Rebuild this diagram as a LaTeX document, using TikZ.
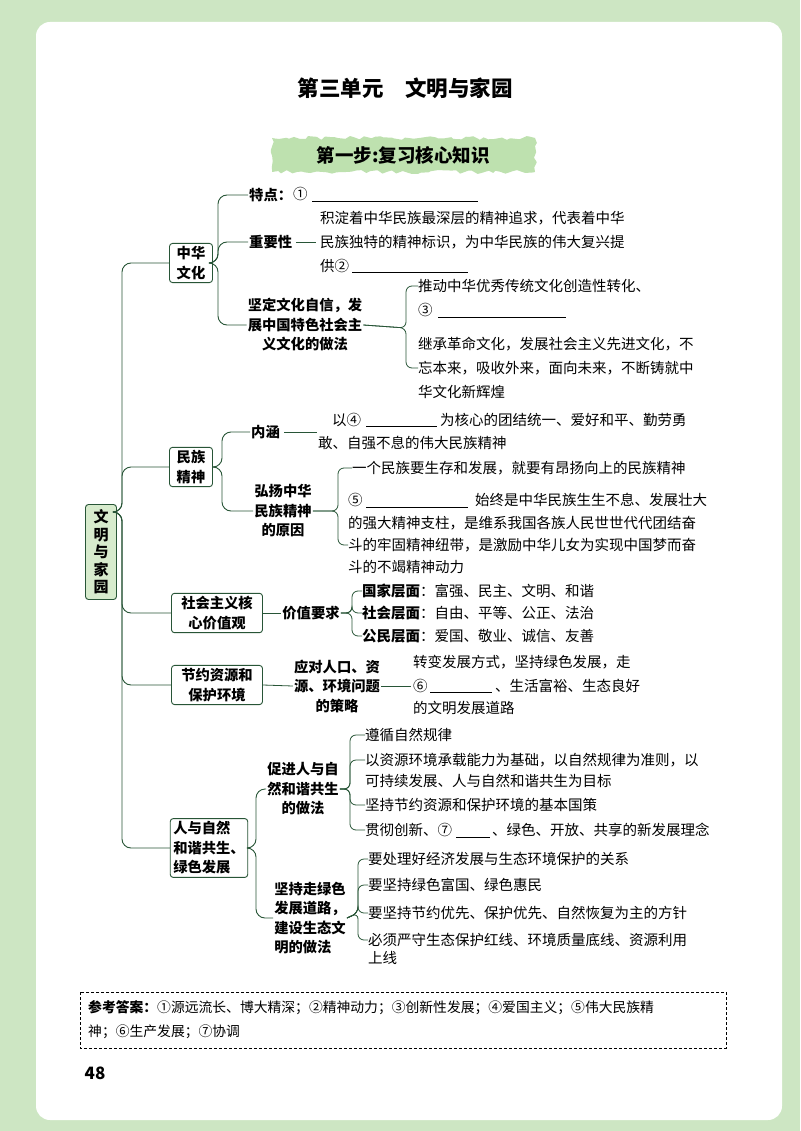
\documentclass[tikz,border=0pt]{standalone}
\usepackage{fontspec}
\setmainfont{Noto Sans CJK SC}
\usetikzlibrary{decorations.pathmorphing}
\definecolor{ln}{RGB}{40,85,55}
\definecolor{pg}{RGB}{205,230,195}
\definecolor{bn}{RGB}{190,225,175}
\definecolor{rootf}{RGB}{215,235,205}
\newcommand{\bodyf}{\fontsize{14.5}{16}\selectfont}
\newcommand{\lblf}{\fontsize{14.3}{19.5}\selectfont\bfseries}
\tikzset{
 txt/.style={anchor=west,inner sep=0pt,font=\bodyf},
 lbl/.style={inner sep=1pt,font=\lblf,align=center},
 box/.style={draw=ln,line width=0.9pt,rounded corners=3pt,fill=white,font=\lblf,align=center,inner sep=3pt},
 br/.style={draw=ln,line width=0.9pt,rounded corners=9pt},
 bk/.style={draw=ln,line width=0.8pt,rounded corners=6pt},
 blank/.style={draw=black,line width=0.6pt}
}
\begin{document}
\begin{tikzpicture}[x=1pt,y=-1pt]
\useasboundingbox (0,0) rectangle (800,1131);
\fill[pg] (0,0) rectangle (800,1131);
\fill[white,rounded corners=14pt] (36,22) rectangle (782,1120);
% title
\node[font=\fontsize{21.5}{24}\selectfont\bfseries] (title) at (405,88) {第三单元\hspace{1em}文明与家园};
\fill[bn,decorate,decoration={random steps,segment length=5pt,amplitude=2pt}] (272,138) rectangle (535,172);
\node[font=\fontsize{18.5}{20}\selectfont\bfseries] (step) at (403,155) {第一步:复习核心知识};
% root
\node[box,fill=rootf,minimum width=31pt,minimum height=95pt,font=\fontsize{15}{17.5}\selectfont\bfseries] (root) at (101,552) {文\\明\\与\\家\\园};
% level1 boxes
\node[box,minimum width=43pt] (zh) at (191,263) {中华\\文化};
\node[box,minimum width=43pt] (mz) at (191,467) {民族\\精神};
\node[box,minimum width=91pt] (sh) at (217,613) {社会主义核\\心价值观};
\node[box,minimum width=91pt] (jy) at (217,685) {节约资源和\\保护环境};
\node[box,minimum width=73pt,align=left] (rz) at (209,848) {人与自然\\和谐共生、\\绿色发展};
\coordinate (rt) at (117,512);
\foreach \b in {zh,mz,sh,jy,rz}{\draw[br] (rt) -- (122,512) |- (\b.west);}
% ---- 中华文化
\node[lbl,anchor=west] (td) at (248,195) {特点：};
\node[txt] (td1) at (293,194) {①};
\draw[blank] (312,201) -- (478,201);
\node[lbl,anchor=west] (zy) at (248,242) {重要性};
\draw[ln,line width=0.8pt] (zy.east) ++(3,0) -- (316,242);
\node[txt] (zy1) at (320,218) {积淀着中华民族最深层的精神追求，代表着中华};
\node[txt] (zy2) at (320,242) {民族独特的精神标识，为中华民族的伟大复兴提};
\node[txt] (zy3) at (320,266) {供②};
\draw[blank] (352,272) -- (468,272);
\node[lbl] (jd) at (305,325) {坚定文化自信，发\\展中国特色社会主\\义文化的做法};
\foreach \c in {td,zy}{\draw[br] (zh.east) -- (218,263) |- (\c.west);}
\draw[br] (zh.east) -- (218,263) |- (jd.west);
\node[txt] (jd1) at (418,286) {推动中华优秀传统文化创造性转化、};
\node[txt] (jd2) at (418,310) {③};
\draw[blank] (438,317) -- (566,317);
\node[txt] (jd3) at (418,344) {继承革命文化，发展社会主义先进文化，不};
\node[txt] (jd4) at (418,368) {忘本来，吸收外来，面向未来，不断铸就中};
\node[txt] (jd5) at (418,392) {华文化新辉煌};
\draw[bk] (jd.east) -- (406,328) |- (jd1.west);
\draw[bk] (jd.east) -- (406,328) |- (jd4.west);
% ---- 民族精神
\node[lbl,anchor=west] (nh) at (250,432) {内涵};
\draw[ln,line width=0.8pt] (nh.east) ++(3,0) -- (317,432);
\node[txt] (nh1) at (332,420) {以④};
\draw[blank] (366,426) -- (437,426);
\node[txt] (nh1b) at (440,420) {为核心的团结统一、爱好和平、勤劳勇};
\node[txt] (nh2) at (318,443) {敢、自强不息的伟大民族精神};
\node[lbl] (hy) at (283,511) {弘扬中华\\民族精神\\的原因};
\draw[br] (mz.east) -- (222,467) |- (nh.west);
\draw[br] (mz.east) -- (222,467) |- (hy.west);
\node[txt] (hy1) at (352,468) {一个民族要生存和发展，就要有昂扬向上的民族精神};
\node[txt] (hy2) at (348,500) {⑤};
\draw[blank] (366,507) -- (468,507);
\node[txt] (hy2b) at (475,500) {始终是中华民族生生不息、发展壮大};
\node[txt] (hy3) at (348,523) {的强大精神支柱，是维系我国各族人民世世代代团结奋};
\node[txt] (hy4) at (348,545) {斗的牢固精神纽带，是激励中华儿女为实现中国梦而奋};
\node[txt] (hy5) at (348,567) {斗的不竭精神动力};
\draw[bk] (hy.east) -- (338,511) |- (hy1.west);
\draw[bk] (hy.east) -- (338,511) |- (348,545);
% ---- 社会主义核心价值观
\node[lbl] (jz) at (311,613) {价值要求};
\draw[ln,line width=0.8pt] (sh.east) -- (jz.west);
\node[txt] (gj) at (362,591) {{\bfseries 国家层面}：富强、民主、文明、和谐};
\node[txt] (sj) at (362,613) {{\bfseries 社会层面}：自由、平等、公正、法治};
\node[txt] (gm) at (362,636) {{\bfseries 公民层面}：爱国、敬业、诚信、友善};
\foreach \c in {gj,sj,gm}{\draw[bk] (jz.east) -- (352,613) |- (\c.west);}
% ---- 节约资源
\node[lbl] (yd) at (337,686) {应对人口、资\\源、环境问题\\的策略};
\draw[ln,line width=0.8pt] (jy.east) -- (yd.west);
\draw[ln,line width=0.8pt] (yd.east) -- (411,686);
\node[txt] (yd1) at (413,662) {转变发展方式，坚持绿色发展，走};
\node[txt] (yd2) at (413,686) {⑥};
\draw[blank] (430,692) -- (492,692);
\node[txt] (yd2b) at (495,686) {、生活富裕、生态良好};
\node[txt] (yd3) at (413,708) {的文明发展道路};
% ---- 人与自然
\node[lbl] (cj) at (303,789) {促进人与自\\然和谐共生\\的做法};
\node[lbl,align=left] (jc) at (310,918) {坚持走绿色\\发展道路，\\建设生态文\\明的做法};
\draw[br] (rz.east) -- (256,848) |- (cj.west);
\draw[br] (rz.east) -- (256,848) |- (jc.west);
\node[txt] (c1) at (365,735) {遵循自然规律};
\node[txt] (c2) at (365,760) {以资源环境承载能力为基础，以自然规律为准则，以};
\node[txt] (c2b) at (365,781) {可持续发展、人与自然和谐共生为目标};
\node[txt] (c3) at (365,805) {坚持节约资源和保护环境的基本国策};
\node[txt] (c4) at (365,830) {贯彻创新、⑦};
\draw[blank] (456,837) -- (490,837);
\node[txt] (c4b) at (492,830) {、绿色、开放、共享的新发展理念};
\foreach \c in {c1,c2,c3,c4}{\draw[bk] (cj.east) -- (350,789) |- (\c.west);}
\node[txt] (j1) at (368,859) {要处理好经济发展与生态环境保护的关系};
\node[txt] (j2) at (368,885) {要坚持绿色富国、绿色惠民};
\node[txt] (j3) at (368,913) {要坚持节约优先、保护优先、自然恢复为主的方针};
\node[txt] (j4) at (368,940) {必须严守生态保护红线、环境质量底线、资源利用};
\node[txt] (j4b) at (368,958) {上线};
\foreach \c in {j1,j2,j3,j4}{\draw[bk] (jc.east) -- (358,913) |- (\c.west);}
% answers
\draw[densely dashed,line width=0.6pt] (80,992) rectangle (726,1048);
\node[txt,font=\fontsize{13.8}{16}\selectfont] (a1) at (88,1008) {{\bfseries 参考答案：}①源远流长、博大精深；②精神动力；③创新性发展；④爱国主义；⑤伟大民族精};
\node[txt,font=\fontsize{13.8}{16}\selectfont] (a2) at (88,1032) {神；⑥生产发展；⑦协调};
\node[font=\fontsize{17}{19}\selectfont\bfseries] (pn) at (95,1073) {48};
\end{tikzpicture}
\end{document}
